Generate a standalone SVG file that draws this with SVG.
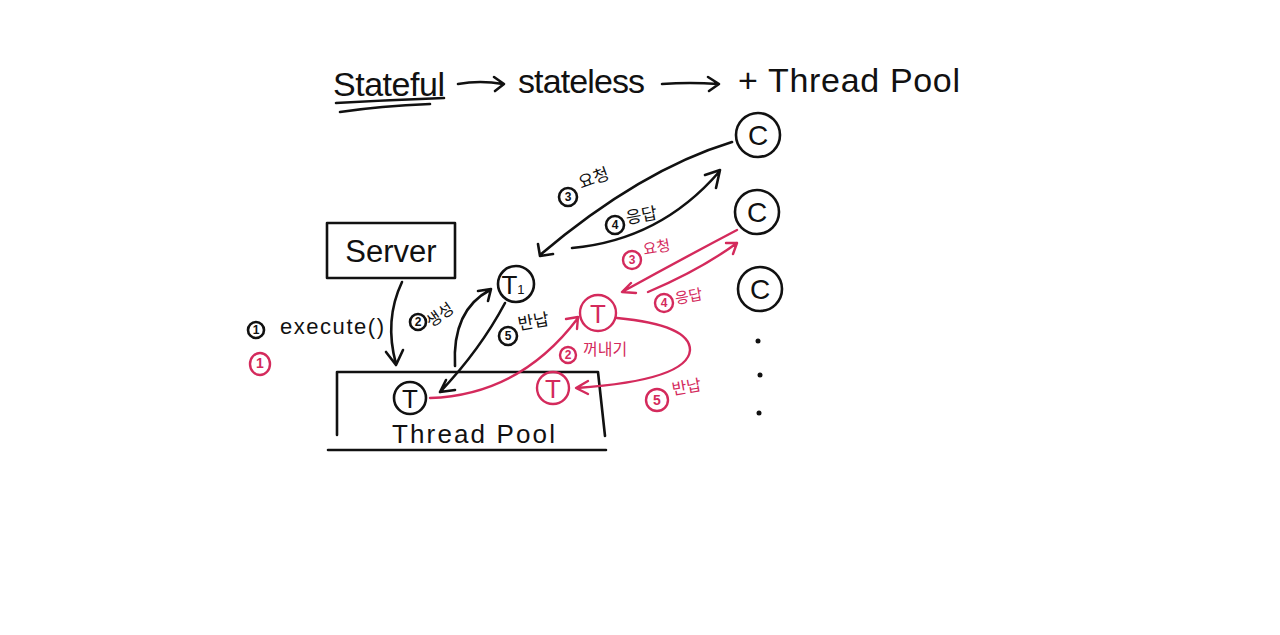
<svg xmlns="http://www.w3.org/2000/svg" width="1280" height="635" viewBox="0 0 1280 635">
<style>
.k{fill:none;stroke:#111;stroke-width:2.6;stroke-linecap:round;stroke-linejoin:round}
.r{fill:none;stroke:#d42a5c;stroke-width:2.4;stroke-linecap:round;stroke-linejoin:round}
.t{font-family:"Liberation Sans","Noto Sans CJK KR",sans-serif;fill:#111}
.tr{font-family:"Liberation Sans","Noto Sans CJK KR",sans-serif;fill:#d42a5c}
.kr{font-family:"Noto Sans CJK KR",sans-serif;fill:#111}
.krr{font-family:"Noto Sans CJK KR",sans-serif;fill:#d42a5c}
.n{font-family:"Liberation Sans",sans-serif;font-size:12px;font-weight:bold;text-anchor:middle}
</style>
<rect width="1280" height="635" fill="#fff"/>
<g id="title">
<text class="t" x="333" y="96" font-size="34" textLength="112">Stateful</text>
<path class="k" d="M336 103 Q390 100 444 98"/>
<path class="k" d="M340 112 Q380 106 430 104"/>
<path class="k" d="M458 84 Q480 80 503 84 M494 77 L504 84 L495 91"/>
<text class="t" x="518" y="93" font-size="34" textLength="127">stateless</text>
<path class="k" d="M662 84 Q690 82 718 84 M708 77 L719 84 L709 91"/>
<text class="t" x="738" y="92" font-size="34" textLength="222">+ Thread Pool</text>
</g>
<g id="server">
<rect class="k" x="327" y="223" width="128" height="55"/>
<text class="t" x="391" y="262" font-size="31" text-anchor="middle">Server</text>
</g>
<g id="threadpool">
<path class="k" d="M337 372 L337 435 M337 372 L598 372 L605 436 M328 450 L606 450"/>
<text class="t" x="392" y="443" font-size="26" textLength="163">Thread Pool</text>
</g>
<g id="poolT">
<circle class="k" cx="410" cy="398" r="16"/>
<text class="t" x="410" y="408" font-size="26" text-anchor="middle">T</text>
</g>
<g id="poolTred">
<circle class="r" cx="553" cy="388" r="16"/>
<text class="tr" x="553" y="398" font-size="26" text-anchor="middle">T</text>
</g>
<g id="T1">
<circle class="k" cx="516" cy="284" r="18"/>
<text class="t" x="513" y="294" font-size="26" text-anchor="middle">T<tspan font-size="13">1</tspan></text>
</g>
<g id="Tred">
<circle class="r" cx="598" cy="313" r="18"/>
<text class="tr" x="598" y="323" font-size="26" text-anchor="middle">T</text>
</g>
<g id="C1">
<circle class="k" cx="758" cy="135" r="22"/>
<text class="t" x="758" y="145" font-size="28" text-anchor="middle">C</text>
</g>
<g id="C2">
<circle class="k" cx="757" cy="212" r="22"/>
<text class="t" x="757" y="222" font-size="28" text-anchor="middle">C</text>
</g>
<g id="C3">
<circle class="k" cx="760" cy="289" r="22"/>
<text class="t" x="760" y="299" font-size="28" text-anchor="middle">C</text>
</g>
<g id="dots" fill="#111">
<circle cx="758" cy="341" r="2.5"/>
<circle cx="760" cy="375" r="2.5"/>
<circle cx="759" cy="413" r="2.5"/>
</g>
<g id="connectors">
<path class="k" d="M402 282 Q384 320 396 364 M386 352 L396 365 L403 350"/>
<path class="k" d="M455 366 Q452 310 490 290 M478 291 L491 289 L488 301"/>
<path class="k" d="M505 303 Q480 350 440 392 M446 380 L440 392 L455 390"/>
<path class="k" d="M732 142 Q640 170 540 255 M538 244 L540 256 L553 254"/>
<path class="k" d="M572 248 Q660 240 719 172 M705 175 L720 170 L716 188"/>
<path class="r" d="M737 230 Q680 260 622 292 M631 283 L622 292 L636 293"/>
<path class="r" d="M648 292 Q700 270 737 243 M726 243 L737 243 L733 254"/>
<path class="r" d="M430 398 Q520 395 578 318 M566 319 L578 317 L577 329"/>
<path class="r" d="M617 318 Q690 325 690 350 Q688 380 577 388 M588 381 L576 388 L588 394"/>
</g>
<g id="labels">
<g class="k" stroke-width="2.2">
<circle cx="256" cy="330" r="8"/>
<circle cx="418" cy="322" r="8"/>
<circle cx="508" cy="336" r="9"/>
<circle cx="568" cy="197" r="9"/>
<circle cx="615" cy="225" r="9"/>
</g>
<g class="r" stroke-width="2.2">
<ellipse cx="260" cy="364" rx="10" ry="11"/>
<circle cx="632" cy="260" r="9"/>
<circle cx="664" cy="303" r="9"/>
<circle cx="568" cy="355" r="8"/>
<circle cx="657" cy="400" r="11"/>
</g>
<g class="n" fill="#111">
<text x="256" y="334">1</text>
<text x="418" y="326">2</text>
<text x="508" y="340">5</text>
<text x="568" y="201">3</text>
<text x="615" y="229">4</text>
</g>
<g class="n" fill="#d42a5c">
<text x="260" y="368" font-size="14">1</text>
<text x="632" y="264">3</text>
<text x="664" y="307">4</text>
<text x="568" y="359">2</text>
<text x="657" y="405" font-size="14">5</text>
</g>
<text class="t" x="280" y="334" font-size="22" textLength="104">execute()</text>
<text class="kr" x="431" y="328" font-size="16" transform="rotate(-35 431 328)">생성</text>
<text class="kr" x="519" y="330" font-size="17" transform="rotate(-10 519 330)">반납</text>
<text class="kr" x="581" y="189" font-size="17" transform="rotate(-20 581 189)">요청</text>
<text class="kr" x="627" y="224" font-size="17" transform="rotate(-10 627 224)">응답</text>
<text class="krr" x="644" y="255" font-size="15" transform="rotate(-10 644 255)">요청</text>
<text class="krr" x="676" y="304" font-size="15" transform="rotate(-10 676 304)">응답</text>
<text class="krr" x="583" y="355" font-size="16">꺼내기</text>
<text class="krr" x="673" y="395" font-size="16" transform="rotate(-10 673 395)">반납</text>
</g>
</svg>
